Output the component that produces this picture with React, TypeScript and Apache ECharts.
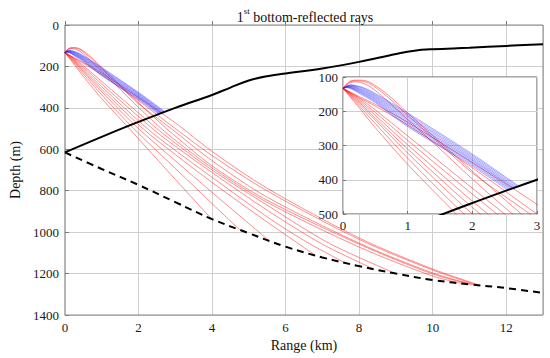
import React, { useEffect, useRef } from "react";
import * as echarts from "echarts";

// ---- data (range in km, depth in m) ----
const mainRangeMax = 13;
const mainDepthMax = 1400;
const insetRange = [0, 3];
const insetDepth = [100, 500];

const interfaceSolid: number[][] = [
  [0, 615], [1, 540], [2, 468], [3, 400], [4, 338], [4.5, 302], [5, 268],
  [5.5, 247], [6, 234], [7, 210], [8, 178], [9, 140], [9.5, 124], [10, 117],
  [11, 110], [12, 101], [13, 93],
];

const bottomDashed: number[][] = [
  [0, 615], [1, 695], [2, 772], [3, 855], [4, 937], [5, 1005], [6, 1070],
  [7, 1122], [8, 1164], [9, 1200], [10, 1231], [11, 1252], [12, 1270], [13, 1294],
];

const redD0 = [[0, 133], [0.25, 190], [0.5, 248], [1, 355], [1.75, 500], [3, 745], [3.98, 935]];
const redD1 = [[0, 133], [0.25, 184], [0.5, 236], [1, 337], [1.87, 500], [3, 692], [4, 862], [4.75, 988]];
const redD2 = [[0, 133], [0.25, 178], [0.5, 226], [1, 322], [2, 500], [3, 655], [4, 808], [5.55, 1041]];
const redD3 = [[0, 133], [0.25, 174], [0.5, 220], [1, 310], [2.12, 500], [3, 625], [4, 760], [5.49, 950], [6.82, 1113]];
const redD4 = [[0, 133], [0.25, 170], [0.5, 212], [1, 298], [2.24, 500], [3, 605], [4, 735], [5.49, 925], [6.5, 1040], [7.6, 1147]];
const redD5 = [[0, 133], [0.25, 166], [0.5, 204], [1, 285], [2.38, 500], [3, 585], [4, 712], [5.49, 893], [7, 1058], [8.4, 1178]];
const redD6 = [[0, 133], [0.25, 162], [0.5, 196], [1, 272], [2.5, 500], [3, 570], [4, 700], [5.49, 869], [7.2, 1055], [9.0, 1200]];
const redA0 = [[0, 133], [0.1, 113], [0.23, 109], [0.4, 114], [0.7, 153], [1, 205], [1.5, 290], [2, 375], [2.76, 500], [3, 536], [4, 680], [5.49, 845], [8, 1058], [10, 1202], [11.05, 1252]];
const redA1 = [[0, 133], [0.1, 115], [0.21, 111], [0.4, 118], [0.7, 160], [1, 212], [1.5, 296], [2, 380], [2.89, 500], [4, 655], [5.49, 830], [8, 1053], [10, 1197], [11.1, 1253]];
const redA2 = [[0, 133], [0.1, 118], [0.19, 114], [0.4, 126], [0.7, 172], [1, 224], [1.5, 310], [2, 398], [2.62, 500], [3, 556], [4, 690], [5.49, 855], [8, 1072], [10, 1212], [10.85, 1249]];
const redS0 = [[0, 133], [0.25, 160], [0.5, 185], [1, 240], [2, 365], [3, 500], [4, 630], [5.49, 800], [8, 1035], [10, 1183], [11.2, 1255]];
const redS1 = [[0, 133], [0.25, 157], [0.5, 180], [1, 232], [2, 350], [3, 472], [4, 610], [5.49, 787], [8, 1028], [10, 1178], [11.3, 1257]];

const blue0 = [[0, 133], [0.12, 123], [0.3, 130], [0.5, 148], [1, 205], [2, 325], [2.72, 419]];
const blue1 = [[0, 133], [0.11, 124], [0.3, 132], [0.5, 151], [1, 209], [2, 329], [2.7, 420]];
const blue2 = [[0, 133], [0.1, 125], [0.3, 135], [0.5, 154], [1, 214], [2, 333], [2.68, 422]];
const blue3 = [[0, 133], [0.1, 126], [0.3, 138], [0.5, 157], [1, 218], [2, 337], [2.66, 423]];
const blue4 = [[0, 133], [0.09, 127], [0.3, 140], [0.5, 160], [1, 223], [2, 341], [2.64, 424]];
const blue5 = [[0, 133], [0.08, 128], [0.3, 143], [0.5, 163], [1, 227], [2, 344], [2.63, 425]];
const blue6 = [[0, 133], [0.07, 129], [0.3, 145], [0.5, 166], [1, 232], [2, 348], [2.61, 427]];
const blue7 = [[0, 133], [0.07, 130], [0.3, 148], [0.5, 169], [1, 236], [2, 352], [2.59, 428]];
const blue8 = [[0, 133], [0.06, 130], [0.3, 150], [0.5, 172], [1, 241], [2, 356], [2.57, 429]];
const blue9 = [[0, 133], [0.05, 131], [0.3, 153], [0.5, 175], [1, 245], [2, 360], [2.55, 431]];

const redRays = [redD0, redD1, redD2, redD3, redD4, redD5, redD6, redA0, redA1, redA2, redS0, redS1];
const blueRays = [blue0, blue1, blue2, blue3, blue4, blue5, blue6, blue7, blue8, blue9];

const FONT = "'Liberation Serif', 'Times New Roman', serif";
const RED = "rgba(255,20,20,0.55)";
const BLUE = "rgba(40,40,255,0.45)";

function line(data: number[][], color: string, width: number, idx: number, z: number, dashed = false, smooth: number = 0.3) {
  return {
    type: "line",
    data,
    xAxisIndex: idx,
    yAxisIndex: idx,
    symbol: "none",
    showSymbol: false,
    smooth,
    silent: true,
    clip: true,
    z,
    lineStyle: { color, width, type: dashed ? [7, 5] : "solid" },
  };
}

export default function App() {
  const ref = useRef<HTMLDivElement>(null);
  useEffect(() => {
    const chart = echarts.init(ref.current!, null, { renderer: "svg" });
    const series: any[] = [];
    [0, 1].forEach((idx) => {
      const base = idx === 0 ? 3 : 12;
      redRays.forEach((r) => series.push(line(r, RED, 0.9, idx, base)));
      blueRays.forEach((r) => series.push(line(r, BLUE, 0.9, idx, base + 1)));
      series.push(line(interfaceSolid, "#000", 2, idx, base + 2, false, 0.4));
      series.push(line(bottomDashed, "#000", 2, idx, base + 2, true, 0.4));
    });

    const labelRich = { t: { fontFamily: FONT, fontSize: 13, color: "#1a1a1a" } };
    const axisLabel = {
      fontFamily: FONT,
      fontSize: 13,
      color: "#1a1a1a",
      formatter: (v: number) => "{t|" + String(v) + "}",
      rich: labelRich,
    };
    chart.setOption({
      animation: false,
      textStyle: { fontFamily: FONT },
      title: {
        text: "{a|1}{s|st}{a| bottom-reflected rays}",
        left: 300,
        top: 1,
        textAlign: "center",
        textStyle: {
          fontWeight: "normal",
          fontFamily: FONT,
          rich: {
            a: { fontFamily: FONT, fontSize: 14, fontWeight: "normal", color: "#111", lineHeight: 18, verticalAlign: "bottom" },
            s: { fontFamily: FONT, fontSize: 9, fontWeight: "normal", color: "#111", lineHeight: 18, verticalAlign: "top" },
          },
        },
      },
      grid: [
        { left: 53, top: 25, width: 490, height: 290, show: true, borderColor: "#888", borderWidth: 1, backgroundColor: "transparent", z: 1 },
        { left: 343, top: 77, width: 194, height: 137, show: true, borderColor: "#555", borderWidth: 1, backgroundColor: "#fff", z: 10 },
      ],
      xAxis: [
        {
          type: "value", gridIndex: 0, min: 0, max: mainRangeMax, interval: 2,
          name: "Range (km)", nameLocation: "middle", nameGap: 20,
          nameTextStyle: { fontFamily: FONT, fontSize: 14, color: "#111" },
          axisLine: { show: false },
          axisTick: { show: true, inside: true, length: 4, lineStyle: { color: "#777" } },
          axisLabel: { ...axisLabel, margin: 6, showMaxLabel: false },
          splitLine: { show: true, lineStyle: { color: "#cfcfcf", width: 1 } },
        },
        {
          type: "value", gridIndex: 1, min: insetRange[0], max: insetRange[1], interval: 1, z: 11,
          axisLine: { show: false },
          axisTick: { show: true, inside: true, length: 3, lineStyle: { color: "#777" } },
          axisLabel: { ...axisLabel, margin: 5 },
          splitLine: { show: true, lineStyle: { color: "#cfcfcf", width: 1 } },
        },
      ],
      yAxis: [
        {
          type: "value", gridIndex: 0, min: 0, max: mainDepthMax, interval: 200, inverse: true,
          name: "Depth (m)", nameLocation: "middle", nameGap: 39,
          nameTextStyle: { fontFamily: FONT, fontSize: 14, color: "#111" },
          axisLine: { show: false },
          axisTick: { show: true, inside: true, length: 4, lineStyle: { color: "#777" } },
          axisLabel: { ...axisLabel, margin: 6 },
          splitLine: { show: true, lineStyle: { color: "#cfcfcf", width: 1 } },
        },
        {
          type: "value", gridIndex: 1, min: insetDepth[0], max: insetDepth[1], interval: 100, inverse: true, z: 11,
          axisLine: { show: false },
          axisTick: { show: true, inside: true, length: 3, lineStyle: { color: "#777" } },
          axisLabel: { ...axisLabel, margin: 5 },
          splitLine: { show: true, lineStyle: { color: "#cfcfcf", width: 1 } },
        },
      ],
      series,
    });
    return () => chart.dispose();
  }, []);
  return <div ref={ref} style={{ position: "fixed", left: 0, top: 0, width: 550, height: 358, background: "#fff" }} />;
}
